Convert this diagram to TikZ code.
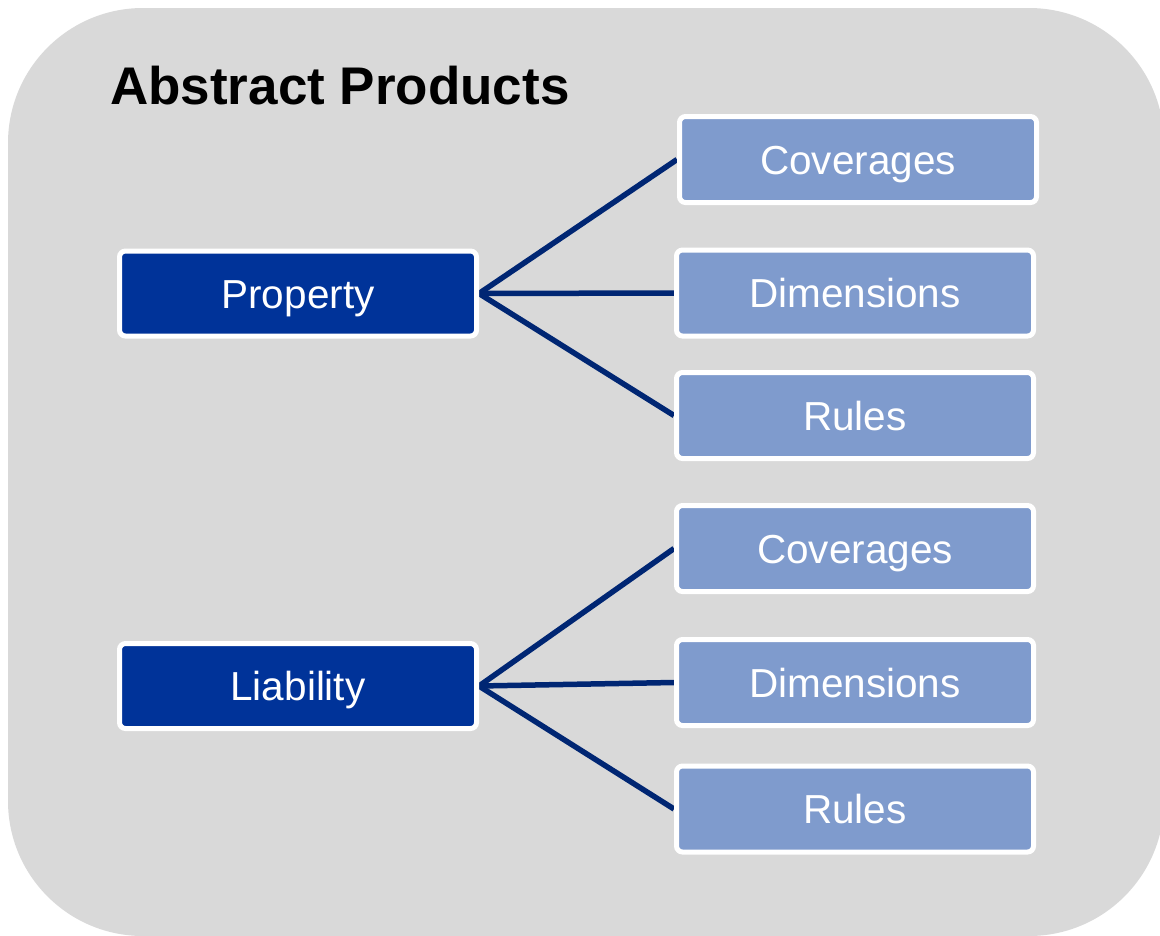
\documentclass[tikz,border=0pt]{standalone}
\usepackage{fontspec}
\setmainfont{Liberation Sans}
\pgfdeclarelayer{back}
\pgfdeclarelayer{wires}
\pgfsetlayers{back,wires,main}
\definecolor{panelgray}{RGB}{217,217,217}
\definecolor{darkbox}{RGB}{0,51,153}
\definecolor{lightbox}{RGB}{127,155,205}
\definecolor{wirecol}{RGB}{0,38,115}
\tikzset{
  boxbase/.style={draw=white, line width=5pt, rounded corners=6pt,
    minimum width=357pt, inner sep=0pt, text=white,
    text height=29pt, text depth=0pt,
    font=\fontsize{40.5}{48}\selectfont},
  parentbox/.style={boxbase, fill=darkbox, minimum height=85pt},
  childbox/.style={boxbase, fill=lightbox, minimum height=86pt},
  wire/.style={draw=wirecol, line width=5.5pt},
}
\begin{document}
\begin{tikzpicture}[x=1pt, y=-1pt]
  \useasboundingbox (0,0) rectangle (1160,935);
  \clip (0,0) rectangle (1160,935);
  \begin{pgfonlayer}{back}
    \fill[panelgray, rounded corners=135pt] (8,8) rectangle (1164,936);
  \end{pgfonlayer}

  \node[anchor=base west, inner sep=0pt, font=\bfseries\fontsize{53}{63}\selectfont] (title) at (110,104) {Abstract Products};

  % product groups
  \node[parentbox] (prop) at (298,293.5) {Property};
  \node[parentbox] (liab) at (298,686) {Liability};

  % Property components
  \node[childbox] (cov1) at (858,159.5) {Coverages};
  \node[childbox] (dim1) at (855,293) {Dimensions};
  \node[childbox] (rul1) at (855,415.5) {Rules};

  % Liability components
  \node[childbox] (cov2) at (855,548.5) {Coverages};
  \node[childbox] (dim2) at (855,682.5) {Dimensions};
  \node[childbox] (rul2) at (855,809) {Rules};

  \begin{pgfonlayer}{wires}
    \draw[wire] (prop.east) -- (cov1.west);
    \draw[wire] (prop.east) -- (dim1.west);
    \draw[wire] (prop.east) -- (rul1.west);
    \draw[wire] (liab.east) -- (cov2.west);
    \draw[wire] (liab.east) -- (dim2.west);
    \draw[wire] (liab.east) -- (rul2.west);
  \end{pgfonlayer}
\end{tikzpicture}
\end{document}
